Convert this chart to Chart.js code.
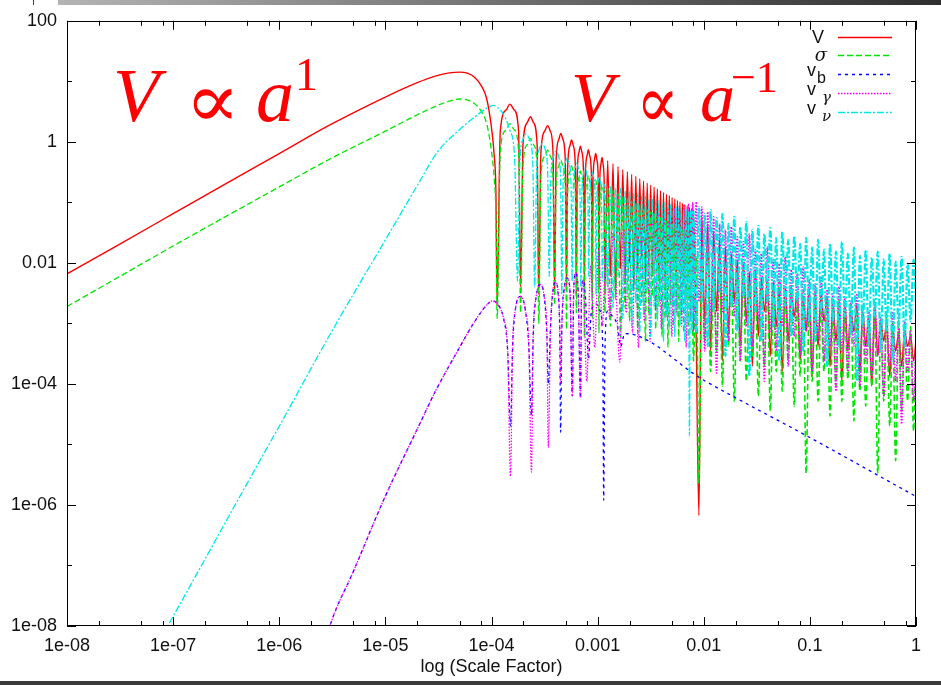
<!DOCTYPE html>
<html><head><meta charset="utf-8">
<script src="https://cdn.jsdelivr.net/npm/chart.js@4.4.1/dist/chart.umd.min.js"></script>
<style>html,body{margin:0;padding:0;background:#fff;overflow:hidden}</style>
</head><body>
<canvas id="c" width="941" height="685"></canvas>
<script>
// ---------- tick labels ----------
const xTickValues = [1e-8, 1e-7, 1e-6, 1e-5, 1e-4, 1e-3, 1e-2, 1e-1, 1];
const xTickLabels = ['1e-08', '1e-07', '1e-06', '1e-05', '1e-04', '0.001', '0.01', '0.1', '1'];
const yTickValues = [1e-8, 1e-6, 1e-4, 1e-2, 1, 100];
const yTickLabels = ['1e-08', '1e-06', '1e-04', '0.01', '1', '100'];
const yMinorValues = [1e-7, 1e-5, 1e-3, 1e-1, 10];
const seriesNames = ['V', 'σ', 'v_b', 'v_γ', 'v_ν'];

// ---------- V (red) and sigma (green) share this scale-factor grid ----------
const aV = [
  1e-8, 3e-8, 1e-7, 3e-7, 1e-6, 3e-6, 1e-5, 2e-5, 3e-5, 4e-5, 5e-5, 6e-5, 7e-5, 8e-5, 9e-5, 1e-4, 1.06e-4, 1.1e-4, 1.13e-4,
  1.21e-4, 1.38e-4, 1.49e-4, 1.63e-4, 1.80e-4, 1.88e-4,
  1.98e-4, 2.18e-4, 2.33e-4, 2.48e-4, 2.69e-4, 2.79e-4,
  2.92e-4, 3.17e-4, 3.38e-4, 3.58e-4, 3.80e-4, 3.93e-4,
  4.06e-4, 4.31e-4, 4.5e-4, 4.7e-4, 4.96e-4, 5.09e-4,
  5.22e-4, 5.48e-4, 5.68e-4, 5.9e-4, 6.17e-4, 6.3e-4,
  6.43e-4, 6.68e-4, 6.88e-4, 7.1e-4, 7.37e-4, 7.5e-4,
  7.65e-4, 7.95e-4, 8.18e-4, 8.42e-4, 8.75e-4, 8.9e-4,
  9.05e-4, 9.35e-4, 9.58e-4, 9.83e-4, 1.015e-3, 1.03e-3,
  1.045e-3, 1.075e-3, 1.1e-3, 1.125e-3, 1.155e-3, 1.17e-3,
  1.244e-3, 1.318e-3, 1.396e-3, 1.475e-3, 1.557e-3, 1.64e-3, 1.727e-3, 1.815e-3, 1.906e-3, 1.998e-3,
  2.094e-3, 2.19e-3, 2.29e-3, 2.391e-3, 2.495e-3, 2.601e-3, 2.71e-3, 2.82e-3, 2.933e-3, 3.047e-3,
  3.164e-3, 3.283e-3, 3.405e-3, 3.528e-3, 3.654e-3, 3.782e-3, 3.913e-3, 4.045e-3, 4.18e-3, 4.316e-3,
  4.456e-3, 4.597e-3, 4.74e-3, 4.886e-3, 5.034e-3, 5.184e-3, 5.337e-3, 5.491e-3, 5.648e-3, 5.806e-3,
  5.968e-3, 6.131e-3, 6.297e-3, 6.464e-3, 6.634e-3, 6.806e-3, 6.98e-3, 7.157e-3, 7.336e-3, 7.517e-3,
  7.7e-3, 7.885e-3
];
const valV = [
  0.0066, 0.0195, 0.065, 0.195, 0.64, 1.9, 5.5, 9.5, 12.3, 13.8, 14.2, 13.5, 11.5, 8.5, 5.2, 1.7, 0.6, 0.15, 0.002,
  1.5, 3.4, 4.2, 3.4, 1.5, 0.004,
  0.9, 2.1, 2.6, 2.1, 0.9, 0.003,
  0.65, 1.5, 1.85, 1.5, 0.65, 0.003,
  0.48, 1.1, 1.38, 1.1, 0.48, 0.004,
  0.37, 0.86, 1.07, 0.86, 0.37, 0.003,
  0.3, 0.68, 0.85, 0.68, 0.3, 0.004,
  0.26, 0.59, 0.74, 0.59, 0.26, 0.003,
  0.22, 0.51, 0.64, 0.51, 0.22, 0.004,
  0.19, 0.43, 0.55, 0.43, 0.19, 0.003,
  0.49, 0.006, 0.44, 0.003, 0.39, 0.008, 0.35, 0.005, 0.32, 0.01,
  0.29, 0.004, 0.27, 0.007, 0.245, 0.012, 0.225, 0.005, 0.208, 0.009,
  0.193, 0.006, 0.179, 0.011, 0.167, 0.005, 0.156, 0.008, 0.146, 0.004,
  0.137, 0.01, 0.129, 0.006, 0.121, 0.009, 0.114, 0.005, 0.108, 0.012,
  0.102, 0.007, 0.097, 0.004, 0.092, 0.008, 0.087, 0.006, 0.083, 0.01,
  0.079, 0.005
];
const valSigma = [
  0.0019, 0.0057, 0.019, 0.056, 0.18, 0.52, 1.5, 2.8, 3.9, 4.7, 5.1, 4.9, 4.2, 3.2, 2.0, 0.7, 0.25, 0.06, 0.0012,
  0.7, 1.6, 2.0, 1.6, 0.7, 0.0015,
  0.4, 0.91, 1.14, 0.91, 0.4, 0.001,
  0.26, 0.58, 0.73, 0.58, 0.26, 0.002,
  0.18, 0.4, 0.5, 0.4, 0.18, 0.0008,
  0.14, 0.32, 0.4, 0.32, 0.14, 0.0015,
  0.12, 0.26, 0.33, 0.26, 0.12, 0.0006,
  0.1, 0.22, 0.28, 0.22, 0.1, 0.0012,
  0.082, 0.19, 0.235, 0.19, 0.082, 0.0007,
  0.07, 0.16, 0.2, 0.16, 0.07, 0.0015,
  0.177, 0.0009, 0.158, 0.0025, 0.141, 0.0006, 0.127, 0.0018, 0.115, 0.0011,
  0.105, 0.0035, 0.096, 0.0007, 0.088, 0.0022, 0.081, 0.0005, 0.075, 0.0014,
  0.07, 0.0028, 0.065, 0.0008, 0.06, 0.0019, 0.056, 0.0006, 0.053, 0.0012,
  0.049, 0.0004, 0.046, 0.0021, 0.044, 0.0009, 0.041, 0.0016, 0.039, 0.0005,
  0.037, 0.0013, 0.035, 0.0007, 0.033, 0.0024, 0.0315, 0.0006, 0.03, 0.0011,
  0.0286, 0.0008
];

// ---------- v_nu (cyan) ----------
const aNu = [
  7e-8, 1e-7, 2e-7, 5e-7, 1e-6, 3e-6, 1e-5, 2e-5, 3.1e-5, 5e-5, 7e-5, 9e-5, 1.05e-4, 1.2e-4, 1.35e-4, 1.5e-4, 1.65e-4, 1.76e-4,
  1.85e-4, 1.98e-4, 2.12e-4, 2.28e-4, 2.45e-4, 2.55e-4,
  2.66e-4, 2.82e-4, 3.0e-4, 3.2e-4, 3.38e-4, 3.5e-4,
  3.62e-4, 3.83e-4, 4.05e-4, 4.3e-4, 4.48e-4, 4.6e-4,
  4.72e-4, 4.95e-4, 5.15e-4, 5.4e-4, 5.62e-4, 5.75e-4,
  5.88e-4, 6.12e-4, 6.35e-4, 6.6e-4, 6.82e-4, 6.95e-4,
  7.1e-4, 7.35e-4, 7.6e-4, 7.88e-4, 8.1e-4, 8.25e-4,
  8.4e-4, 8.7e-4, 8.95e-4, 9.22e-4, 9.5e-4, 9.65e-4,
  9.8e-4, 1.01e-3, 1.035e-3, 1.06e-3, 1.09e-3, 1.105e-3,
  1.17e-3, 1.244e-3, 1.318e-3, 1.396e-3, 1.475e-3, 1.557e-3, 1.64e-3, 1.727e-3, 1.815e-3, 1.906e-3, 1.998e-3,
  2.094e-3, 2.19e-3, 2.29e-3, 2.391e-3, 2.495e-3, 2.601e-3, 2.71e-3, 2.82e-3, 2.933e-3, 3.047e-3,
  3.164e-3, 3.283e-3, 3.405e-3, 3.528e-3, 3.654e-3, 3.782e-3, 3.913e-3, 4.045e-3, 4.18e-3, 4.316e-3,
  4.456e-3, 4.597e-3, 4.74e-3, 4.886e-3, 5.034e-3, 5.184e-3, 5.337e-3, 5.491e-3, 5.648e-3, 5.806e-3,
  5.968e-3, 6.131e-3, 6.297e-3, 6.464e-3, 6.634e-3, 6.806e-3, 6.98e-3, 7.157e-3, 7.336e-3, 7.517e-3,
  7.7e-3, 7.885e-3
];
const valNu = [
  4.7e-9, 1.44e-8, 1.28e-7, 2.3e-6, 2e-5, 6.5e-4, 0.024, 0.19, 0.68, 1.6, 2.6, 3.6, 4.0, 3.4, 2.5, 1.5, 0.55, 0.005,
  0.45, 1.1, 1.35, 1.1, 0.45, 0.004,
  0.32, 0.76, 0.93, 0.76, 0.32, 0.006,
  0.24, 0.56, 0.7, 0.56, 0.24, 0.003,
  0.19, 0.44, 0.54, 0.44, 0.19, 0.005,
  0.15, 0.35, 0.44, 0.35, 0.15, 0.004,
  0.13, 0.3, 0.37, 0.3, 0.13, 0.006,
  0.11, 0.25, 0.31, 0.25, 0.11, 0.003,
  0.095, 0.22, 0.27, 0.22, 0.095, 0.005,
  0.2, 0.004, 0.19, 0.0018, 0.17, 0.006, 0.172, 0.0012, 0.155, 0.003, 0.152,
  0.0009, 0.14, 0.0022, 0.138, 0.0007, 0.126, 0.0015, 0.125, 0.0035, 0.115,
  0.0006, 0.116, 0.0019, 0.105, 0.0011, 0.108, 0.0025, 0.098, 0.0005, 0.1,
  0.0014, 0.09, 0.0008, 0.094, 0.002, 0.085, 0.0006, 0.088, 0.0013, 0.08,
  0.0009, 0.083, 0.0017, 0.075, 0.0005, 0.078, 0.0011, 0.072, 1.4e-5, 0.074,
  0.0008, 0.07
];

// ---------- v_gamma (magenta) ----------
const aGamma = [
  2.5e-6, 3e-6, 5e-6, 1e-5, 2e-5, 3e-5, 5e-5, 7e-5, 9e-5, 1.02e-4, 1.15e-4, 1.3e-4, 1.42e-4, 1.51e-4, 1.58e-4, 1.68e-4,
  1.88e-4, 2.08e-4, 2.25e-4, 2.38e-4, 2.47e-4, 2.62e-4, 2.9e-4, 3.15e-4, 3.33e-4, 3.43e-4,
  3.6e-4, 3.8e-4, 4.02e-4, 4.25e-4, 4.4e-4, 4.48e-4, 4.6e-4, 4.85e-4, 5.18e-4, 5.5e-4, 5.77e-4, 5.95e-4, 6.2e-4, 6.55e-4,
  6.9e-4, 7.05e-4, 7.3e-4,
  7.9e-4, 8.6e-4, 9.4e-4, 1.02e-3, 1.11e-3, 1.2e-3, 1.3e-3, 1.4e-3, 1.62e-3, 1.74e-3, 1.86e-3, 1.99e-3, 2.13e-3, 2.27e-3,
  2.42e-3, 2.58e-3, 2.75e-3, 2.93e-3, 3.12e-3, 3.32e-3, 3.53e-3, 3.75e-3, 3.98e-3, 4.22e-3, 4.47e-3, 4.73e-3, 5.0e-3,
  5.28e-3, 5.57e-3, 5.87e-3, 6.18e-3, 6.5e-3, 6.83e-3, 7.17e-3, 7.52e-3, 7.88e-3
];
const valGamma = [
  3e-9, 1e-8, 8e-8, 1.4e-6, 1.8e-5, 7.9e-5, 4e-4, 1.1e-3, 2e-3, 2.35e-3, 2.05e-3, 1.2e-3, 3.5e-4, 3e-6, 4e-4, 1.7e-3,
  2.8e-3, 1.7e-3, 4e-4, 3.5e-6, 6e-4, 2.6e-3, 4.4e-3, 2.6e-3, 6e-4, 8.9e-6,
  8e-4, 3.6e-3, 4.8e-3, 3.2e-3, 9e-4, 1e-4, 9e-4, 3.8e-3, 5.6e-3, 3.2e-3, 6.3e-5, 3.5e-3, 6.8e-3, 3.5e-3,
  5.9e-5, 3e-3, 5.2e-3,
  1.1e-4, 0.009, 4e-4, 0.016, 9e-4, 0.022, 1.2e-3, 0.03, 2.3e-4, 0.035, 1.5e-3, 0.04, 7e-4, 0.045,
  4e-4, 0.05, 1.1e-3, 0.055, 5e-4, 0.06, 1.6e-3, 0.065, 8e-4, 0.07, 1.3e-3, 0.075, 6e-4,
  0.08, 1.4e-3, 0.085, 9e-4, 0.09, 4e-4, 0.095, 1.1e-3, 0.1
];

// ---------- v_b (blue) ----------
const aB = [
  2.5e-6, 3e-6, 5e-6, 1e-5, 2e-5, 3e-5, 5e-5, 7e-5, 9e-5, 1.02e-4, 1.15e-4, 1.3e-4, 1.42e-4, 1.51e-4, 1.58e-4, 1.68e-4,
  1.88e-4, 2.08e-4, 2.25e-4, 2.38e-4, 2.47e-4, 2.62e-4, 2.9e-4, 3.15e-4, 3.33e-4, 3.43e-4,
  3.6e-4, 3.8e-4, 4.02e-4, 4.25e-4, 4.4e-4, 4.48e-4, 4.6e-4, 4.85e-4, 5.18e-4, 5.5e-4, 5.77e-4, 5.95e-4, 6.2e-4, 6.55e-4,
  6.9e-4, 7.05e-4, 7.3e-4,
  7.7e-4, 8.2e-4, 8.7e-4, 9.6e-4, 1.06e-3, 1.12e-3, 1.14e-3, 1.17e-3, 1.24e-3, 1.38e-3, 1.54e-3, 1.65e-3, 1.8e-3,
  0.01, 0.1, 1
];
const valB = [
  3e-9, 1e-8, 8e-8, 1.4e-6, 1.8e-5, 7.9e-5, 4e-4, 1.1e-3, 2e-3, 2.35e-3, 2.05e-3, 1.2e-3, 3.5e-4, 2e-5, 4e-4, 1.7e-3,
  2.8e-3, 1.7e-3, 4e-4, 3e-5, 6e-4, 2.6e-3, 4.4e-3, 2.6e-3, 6e-4, 1e-4,
  9e-4, 3.6e-3, 4.8e-3, 3e-3, 6e-4, 1.6e-5, 8e-4, 3.8e-3, 5.6e-3, 3.2e-3, 6.3e-5, 3.5e-3, 6.8e-3, 3.5e-3,
  5.9e-5, 3e-3, 5.2e-3,
  2.5e-3, 2.6e-4, 1.5e-3, 2.1e-3, 1.6e-3, 3e-4, 1.2e-6, 3e-4, 1.6e-3, 1.3e-3, 9e-4, 4.2e-4, 6.8e-4,
  1.15e-4, 1.3e-5, 1.38e-6
];

// ---------- late-time noisy band (a > 0.008), shared scale-factor grid ----------
const bandA = [
  0.008, 0.0085, 0.009, 0.0096, 0.0102, 0.0109, 0.0116, 0.0124, 0.0132, 0.0141,
  0.015, 0.016, 0.0171, 0.0182, 0.0194, 0.0207, 0.0221, 0.0236, 0.0252, 0.0269,
  0.0287, 0.0306, 0.0327, 0.0349, 0.0372, 0.0397, 0.0424, 0.0452, 0.0482, 0.0514,
  0.0549, 0.0586, 0.0625, 0.0667, 0.0712, 0.076, 0.081, 0.0865, 0.0923, 0.0985,
  0.105, 0.112, 0.1195, 0.1275, 0.136, 0.145, 0.155, 0.165, 0.176, 0.188,
  0.2, 0.214, 0.228, 0.243, 0.26, 0.277, 0.296, 0.315, 0.336, 0.359,
  0.383, 0.409, 0.436, 0.465, 0.496, 0.529, 0.565, 0.603, 0.643, 0.686,
  0.732, 0.781, 0.833, 0.889, 0.949, 1.0
];
const bandV = [
  0.075, 0.00051, 6.7e-7, 0.0575, 0.00108, 0.0441, 0.00035, 0.0326, 0.00157, 0.0241,
  0.00024, 0.01845, 0.00074, 0.0142, 0.0023, 0.0113, 0.00042, 0.0097, 0.00108, 0.00716,
  0.000196, 0.00773, 0.00061, 0.00571, 0.00157, 0.00455, 0.00029, 0.00491, 0.00089, 0.00362,
  0.00016, 0.00406, 0.00051, 0.00311, 0.0013, 0.00336, 0.00024, 0.00268, 0.00074, 0.00362,
  0.000134, 0.0023, 0.00042, 0.00311, 0.00108, 0.00268, 0.000196, 0.0023, 0.00051, 0.0019,
  0.000111, 0.00213, 0.00035, 0.0017, 0.00074, 0.00205, 0.00016, 0.00157, 0.00042, 0.0013,
  9.2e-5, 0.0019, 0.00029, 0.00116, 0.00051, 0.001, 0.000134, 0.0008, 0.00035, 0.00068,
  0.000196, 0.00074, 0.00042, 0.00061, 0.00024, 0.00051
];
const bandSigma = [
  0.00024, 0.0126, 2.33e-6, 0.0097, 0.00051, 0.0153, 0.00016, 0.00865, 0.00035, 0.0113,
  9.2e-5, 0.00716, 0.00042, 0.0097, 5.2e-5, 0.00593, 0.00024, 0.00773, 0.000111, 0.00491,
  0.00029, 0.00664, 6.3e-5, 0.00406, 0.000196, 0.00571, 3.57e-5, 0.00362, 0.00016, 0.00491,
  7.6e-5, 0.00311, 0.00024, 0.00421, 4.3e-5, 0.00278, 0.000134, 0.00362, 3.3e-6, 0.00248,
  0.000111, 0.00336, 5.2e-5, 0.00213, 0.00016, 0.00278, 2.95e-5, 0.0019, 9.2e-5, 0.00248,
  5.2e-5, 0.00157, 0.00012, 0.00213, 2.44e-5, 0.00146, 7.6e-5, 0.0019, 4.3e-5, 0.00126,
  9.2e-5, 0.0017, 3.3e-6, 0.00108, 5.2e-5, 0.00146, 2.02e-5, 0.001, 5.4e-6, 0.00116,
  3.57e-5, 0.00074, 5.2e-5, 0.00089, 1.67e-5, 0.00051
];
const bandGamma = [
  0.00074, 0.1016, 0.0023, 0.084, 0.00035, 0.0695, 0.00108, 0.0575, 0.000151, 0.0441,
  0.00157, 0.0351, 0.00051, 0.0394, 0.0013, 0.027, 0.00024, 0.0223, 0.00089, 0.0302,
  0.00042, 0.0165, 0.00108, 0.0142, 0.000111, 0.01845, 0.00074, 0.0113, 0.00035, 0.0097,
  0.00089, 0.0126, 0.000196, 0.00773, 0.00061, 0.00664, 0.00029, 0.00865, 0.00074, 0.0053,
  0.00016, 0.00455, 0.00051, 0.00593, 0.00024, 0.00362, 0.00042, 0.00311, 7.6e-5, 0.00406,
  0.00035, 0.00268, 0.00016, 0.0023, 0.00042, 0.00311, 9.2e-5, 0.0019, 0.00024, 0.00157,
  0.000134, 0.0023, 0.00029, 0.0013, 6.3e-5, 0.00116, 0.000196, 0.00157, 0.000111, 0.00089,
  2.18e-5, 0.00108, 0.00016, 0.00074, 5.2e-5, 0.00061
];
const bandNu = [
  0.0695, 0.00074, 0.084, 0.0023, 0.0644, 0.00042, 0.075, 0.00157, 0.0554, 0.00336,
  0.0644, 0.00029, 0.0441, 0.0019, 0.0575, 0.00074, 0.0394, 0.00278, 0.0476, 0.000134,
  0.0351, 0.00157, 0.0409, 0.00051, 0.0302, 0.0023, 0.0379, 0.00089, 0.0259, 0.00024,
  0.0326, 0.0019, 0.0241, 0.00061, 0.028, 0.0023, 0.0207, 0.00035, 0.0259, 0.00108,
  0.0178, 0.00051, 0.0241, 0.00157, 0.0165, 0.000196, 0.0207, 0.00108, 0.0153, 0.00042,
  0.0223, 0.0013, 0.0142, 0.00061, 0.0178, 0.000111, 0.0131, 0.00089, 0.0165, 0.00042,
  0.0122, 0.0013, 0.0153, 0.00035, 0.0113, 0.00074, 0.0142, 0.00024, 0.0105, 0.00089,
  0.0126, 0.00042, 0.0097, 0.00108, 0.0113, 0.0023
];

// ---------- build ----------
function toPoints(xs, ys) {
  const out = [];
  const n = Math.min(xs.length, ys.length);
  for (let i = 0; i < n; i++) out.push({ x: xs[i], y: ys[i] });
  return out;
}
const colors = { V: '#ff0000', S: '#00e600', B: '#0000ff', G: '#ff00ff', N: '#00e8e8' };
const dashes = { V: [], S: [6, 3], B: [3, 4], G: [1.5, 1.5], N: [7, 2, 2, 2] };
// lines in the late-time band are drawn a little heavier, as in the original raster
const bandWidth = (w) => ({ borderWidth: ctx => (ctx.p0 && ctx.p0.x > 690 ? w : undefined) });

const datasets = [
  { label: seriesNames[0], data: toPoints(aV.concat(bandA), valV.concat(bandV)), borderColor: colors.V, borderDash: dashes.V, order: 5, borderWidth: 1.4 },
  { label: seriesNames[1], data: toPoints(aV.concat(bandA), valSigma.concat(bandSigma)), borderColor: colors.S, borderDash: dashes.S, order: 4, borderWidth: 1.3, segment: bandWidth(1.6) },
  { label: seriesNames[2], data: toPoints(aB, valB), borderColor: colors.B, borderDash: dashes.B, order: 3, borderWidth: 1.3 },
  { label: seriesNames[3], data: toPoints(aGamma.concat(bandA), valGamma.concat(bandGamma)), borderColor: colors.G, borderDash: dashes.G, order: 2, borderWidth: 1.3, segment: bandWidth(1.6) },
  { label: seriesNames[4], data: toPoints(aNu.concat(bandA), valNu.concat(bandNu)), borderColor: colors.N, borderDash: dashes.N, order: 1, borderWidth: 1.3, segment: bandWidth(2.2) }
];

const decorPlugin = {
  id: 'decor',
  beforeDraw(chart) {
    const c = chart.ctx;
    c.save();
    c.fillStyle = '#fff';
    c.fillRect(0, 0, chart.width, chart.height);
    const g = c.createLinearGradient(58, 0, 941, 0);
    g.addColorStop(0, '#b4b4b4');
    g.addColorStop(1, '#2e2e2e');
    c.fillStyle = g;
    c.fillRect(58, 0, 883, 5);
    c.fillStyle = '#444';
    c.fillRect(33, 0, 1, 5);
    c.fillStyle = '#3a3a3a';
    c.fillRect(0, 681, 941, 4);
    c.restore();
  },
  afterDatasetsDraw(chart) {
    const c = chart.ctx, A = chart.chartArea, xs = chart.scales.x, ys = chart.scales.y;
    c.save();
    // frame
    c.strokeStyle = '#000';
    c.lineWidth = 1;
    c.setLineDash([]);
    c.strokeRect(Math.round(A.left) + 0.5, Math.round(A.top) + 0.5, Math.round(A.right - A.left) - 1, Math.round(A.bottom - A.top) - 1);
    // ticks (inward, mirrored)
    c.beginPath();
    const xt = (v, len) => {
      const p = Math.round(xs.getPixelForValue(v)) + 0.5;
      c.moveTo(p, A.bottom); c.lineTo(p, A.bottom - len);
      c.moveTo(p, A.top); c.lineTo(p, A.top + len);
    };
    const yt = (v, len) => {
      const p = Math.round(ys.getPixelForValue(v)) + 0.5;
      c.moveTo(A.left, p); c.lineTo(A.left + len, p);
      c.moveTo(A.right, p); c.lineTo(A.right - len, p);
    };
    xTickValues.forEach(v => xt(v, 9));
    xTickValues.slice(0, -1).forEach(v => [2, 5, 8].forEach(m => xt(v * m, 5)));
    yTickValues.forEach(v => yt(v, 9));
    yMinorValues.forEach(v => yt(v, 5));
    c.stroke();

    // legend
    const rows = [
      { main: 'V', sub: '', base: 43, line: 37, col: colors.V, dash: dashes.V },
      { main: 'σ', sub: '', base: 61, line: 55, col: colors.S, dash: dashes.S },
      { main: 'v', sub: 'b', base: 76, line: 74, col: colors.B, dash: dashes.B },
      { main: 'v', sub: 'γ', base: 95, line: 93, col: colors.G, dash: dashes.G },
      { main: 'v', sub: 'ν', base: 114, line: 112, col: colors.N, dash: dashes.N }
    ];
    rows.forEach(r => {
      c.fillStyle = '#111';
      c.textBaseline = 'alphabetic';
      if (!r.sub) {
        c.textAlign = 'right';
        c.font = r.main === 'σ' ? 'italic 18px "DejaVu Serif"' : '18px "Liberation Sans"';
        c.fillText(r.main, r.main === 'σ' ? 827 : 824, r.base);
      } else {
        c.textAlign = 'left';
        c.font = '18px "Liberation Sans"';
        c.fillText(r.main, 807, r.base);
        if (r.sub === 'b') {
          c.font = '16px "Liberation Sans"';
          c.fillText(r.sub, 817, r.base + 7);
        } else {
          c.font = 'italic 15px "DejaVu Serif"';
          c.fillText(r.sub, 822, r.base + 7);
        }
      }
      c.strokeStyle = r.col;
      c.lineWidth = 1.4;
      c.setLineDash(r.dash);
      c.beginPath();
      c.moveTo(838, r.line + 0.5);
      c.lineTo(892, r.line + 0.5);
      c.stroke();
    });
    c.setLineDash([]);

    // annotations
    c.fillStyle = '#ff0000';
    c.textAlign = 'left';
    c.textBaseline = 'alphabetic';
    c.font = 'italic 76px "Liberation Serif"';
    c.fillText('V', 113, 121);
    c.fillText('a', 256, 121);
    c.font = '46px "Liberation Serif"';
    c.fillText('1', 295, 90);
    c.save();
    c.translate(185, 127);
    c.scale(1.2, 1.14);
    c.font = '68px "DejaVu Serif"';
    c.fillText('∝', 0, 0);
    c.restore();

    c.font = 'italic 70px "Liberation Serif"';
    c.fillText('V', 571, 121);
    c.fillText('a', 700, 121);
    c.font = '44px "Liberation Serif"';
    c.fillText('−1', 731, 92);
    c.save();
    c.translate(636, 127);
    c.scale(1.0, 1.14);
    c.font = '64px "DejaVu Serif"';
    c.fillText('∝', 0, 0);
    c.restore();
    c.restore();
  }
};

new Chart(document.getElementById('c').getContext('2d'), {
  type: 'line',
  data: { datasets },
  options: {
    responsive: false,
    animation: false,
    devicePixelRatio: 1,
    parsing: false,
    normalized: true,
    spanGaps: true,
    layout: { padding: { top: 18, right: 25, left: 0, bottom: 0 } },
    plugins: { legend: { display: false }, tooltip: { enabled: false } },
    elements: {
      point: { radius: 0 },
      line: { cubicInterpolationMode: 'monotone', borderJoinStyle: 'round', fill: false }
    },
    scales: {
      x: {
        type: 'logarithmic', min: 1e-8, max: 1,
        grid: { display: false, drawTicks: false },
        border: { display: false },
        afterBuildTicks: s => { s.ticks = xTickValues.map(v => ({ value: v })); },
        afterFit: s => { s.height = 59; },
        ticks: {
          autoSkip: false, maxRotation: 0, padding: 9, color: '#111',
          font: { family: 'Liberation Sans', size: 18 },
          callback: (v, i) => xTickLabels[i]
        },
        title: {
          display: true, text: 'log (Scale Factor)', color: '#111',
          font: { family: 'Liberation Sans', size: 18 },
          padding: { top: 0, bottom: 7 }
        }
      },
      y: {
        type: 'logarithmic', min: 1e-8, max: 100,
        grid: { display: false, drawTicks: false },
        border: { display: false },
        afterBuildTicks: s => { s.ticks = yTickValues.map(v => ({ value: v })); },
        afterFit: s => { s.width = 67; },
        ticks: {
          autoSkip: false, padding: 10, color: '#111',
          font: { family: 'Liberation Sans', size: 18 },
          callback: (v, i) => yTickLabels[i]
        }
      }
    }
  },
  plugins: [decorPlugin]
});
</script>
</body></html>
